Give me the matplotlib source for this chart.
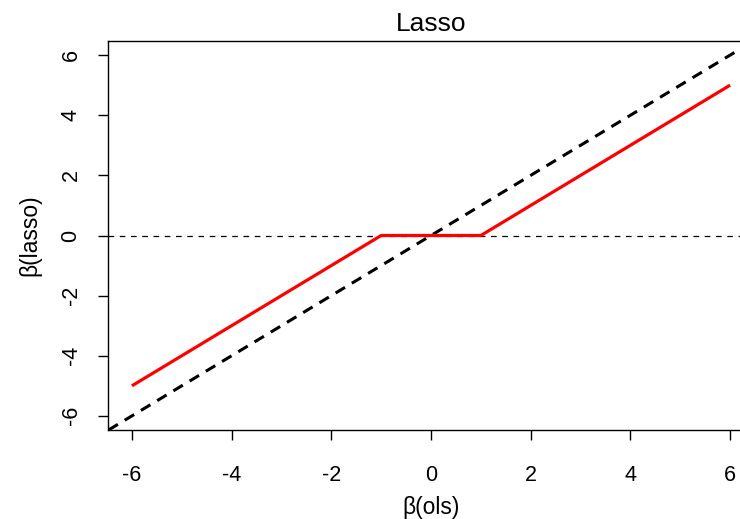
import matplotlib.pyplot as plt
import numpy as np

plt.rcParams['font.family'] = ['Liberation Sans', 'DejaVu Sans']

# soft-thresholding at lambda = 1
beta_ols = [-6, -1, 1, 6]
beta_lasso = [-5, 0, 0, 5]
ticks = [-6, -4, -2, 0, 2, 4, 6]
tick_labels = ['-6', '-4', '-2', '0', '2', '4', '6']

fig = plt.figure(figsize=(7.4, 5.19), dpi=100)
ax = fig.add_axes([108/740, 89/519, 646/740, 389/519])

ax.axline((0, 0), slope=1, color='black', lw=2.2, linestyle=(0, (3.6, 2.6)))
ax.axhline(0, color='black', lw=0.9, linestyle=(0, (4.5, 4.5)))
ax.plot(beta_ols, beta_lasso, color='red', lw=2.3, solid_capstyle='butt')

ax.set_xlim(-6.48, 6.48)
ax.set_ylim(-6.47, 6.47)
ax.set_xticks(ticks)
ax.set_xticklabels(tick_labels)
ax.set_yticks(ticks)
ax.set_yticklabels(tick_labels, rotation=90, va='center')
ax.tick_params(labelsize=15.5, length=7, width=1)
ax.tick_params(axis='x', pad=18.5)
ax.tick_params(axis='y', pad=12)

for s in ax.spines.values():
    s.set_linewidth(1)

ax.set_title('Lasso', fontsize=19, pad=7)
ax.set_xlabel('β(ols)', fontsize=16.5, labelpad=7)
ax.set_ylabel('β(lasso)', fontsize=16.5, labelpad=14)

plt.savefig('out.png', dpi=100)
